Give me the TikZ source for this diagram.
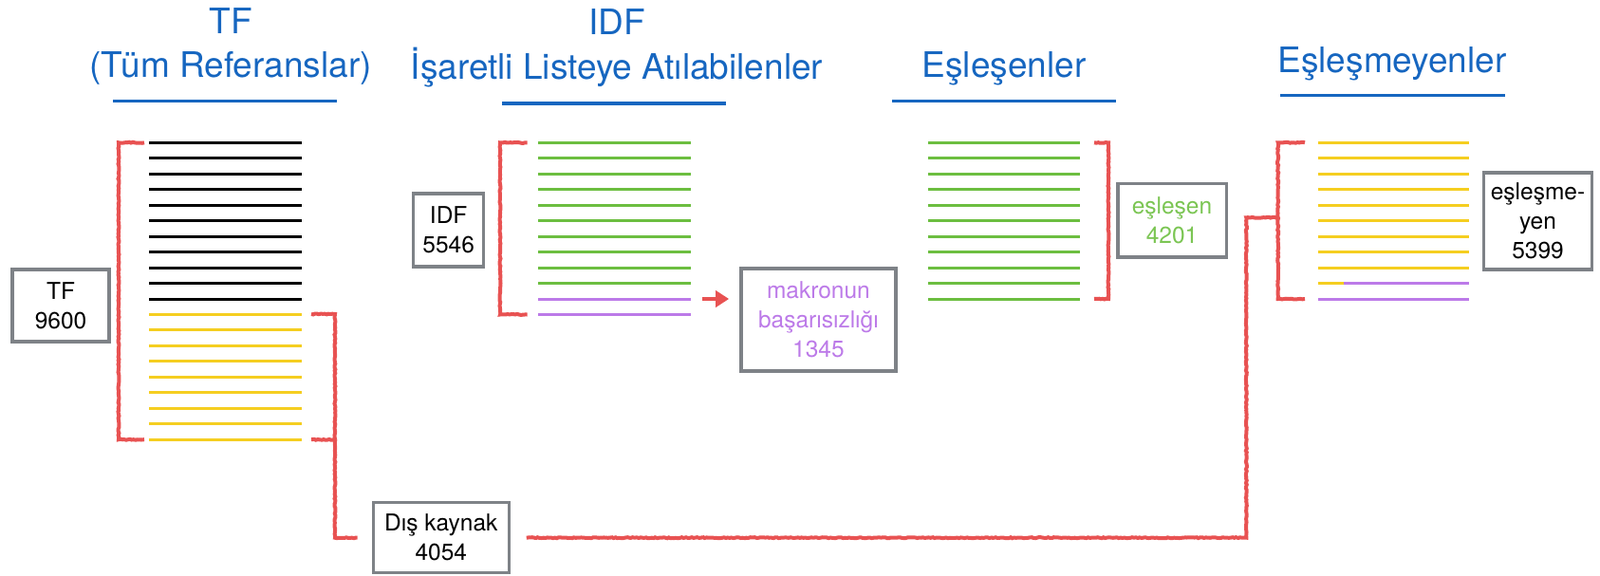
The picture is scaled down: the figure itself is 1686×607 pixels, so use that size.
\documentclass[tikz,border=0pt]{standalone}
\usepackage{fontspec}
\setmainfont{TeX Gyre Heros}
\usepackage{xcolor}
\definecolor{titleblue}{RGB}{22,102,192}
\definecolor{listgreen}{RGB}{108,190,64}
\definecolor{listyellow}{RGB}{245,206,32}
\definecolor{listpurple}{RGB}{188,122,232}
\definecolor{markred}{RGB}{232,82,82}
\definecolor{boxgray}{RGB}{126,130,135}
\usepackage{tikz}
\usetikzlibrary{positioning,calc,arrows.meta,decorations.pathmorphing}

\begin{document}
\begin{tikzpicture}[x=1pt, y=-1pt, >={Triangle[length=14pt, width=17pt]},
  title/.style = {text=titleblue, align=center, inner sep=0pt, anchor=base, font=\fontsize{37}{46.5}\selectfont},
  uline/.style = {draw=titleblue, line width=3.5pt},
  box/.style = {draw=boxgray, line width=3.5pt, align=center, inner sep=0pt, font=\fontsize{24.5}{31}\selectfont},
  entry/.style = {line width=3pt},
  bracket/.style = {draw=markred, line width=4pt, decorate, decoration={random steps, segment length=2pt, amplitude=0.5pt}}]

\useasboundingbox (0,0) rectangle (1686,607);

\node[title] (t1) at (243,81.7) {TF\\(Tüm Referanslar)};
\node[title] (t2) at (650,83.3) {IDF\\İşaretli Listeye Atılabilenler};
\node[title] (t3) at (1058,81.7) {Eşleşenler};
\node[title] (t4) at (1467,76.7) {Eşleşmeyenler};
\draw[uline] (119,106.7) -- (355,106.7);
\draw[uline] (529,109) -- (765,109);
\draw[uline] (940,106.7) -- (1176,106.7);
\draw[uline] (1349,100.7) -- (1586,100.7);

\foreach \k in {0,...,10} \draw[entry, black] (157,150.3+16.47*\k) -- (317.5,150.3+16.47*\k);
\foreach \k in {11,...,19} \draw[entry, listyellow] (157,150.3+16.47*\k) -- (317.5,150.3+16.47*\k);
\foreach \k in {0,...,9} \draw[entry, listgreen] (567,150.3+16.47*\k) -- (727.5,150.3+16.47*\k);
\foreach \k in {10,11} \draw[entry, listpurple] (567,150.3+16.47*\k) -- (727.5,150.3+16.47*\k);
\foreach \k in {0,...,10} \draw[entry, listgreen] (977.7,150.3+16.47*\k) -- (1138,150.3+16.47*\k);
\foreach \k in {0,...,8} \draw[entry, listyellow] (1388.7,150.3+16.47*\k) -- (1547.6,150.3+16.47*\k);
\draw[entry, listyellow] (1388.7,298.5) -- (1416,298.5);
\draw[entry, listpurple] (1416,298.5) -- (1547.6,298.5);
\draw[entry, listpurple] (1388.7,315) -- (1547.6,315);

\node[box, minimum width=102pt, minimum height=76pt] (tf) at (64,322.2) {TF\\9600};
\node[box, minimum width=74pt, minimum height=77pt] (idf) at (472.7,242.4) {IDF\\5546};
\node[box, minimum width=163pt, minimum height=108pt, text=listpurple] (makro) at (862.4,337.2) {makronun\\başarısızlığı\\1345};
\node[box, minimum width=114.5pt, minimum height=77.5pt, text=listgreen!90!white] (esl) at (1235,232.2) {eşleşen\\4201};
\node[box, minimum width=114pt, minimum height=102pt] (eslm) at (1620.5,233) {eşleşme-\\yen\\5399};
\node[box, minimum width=143pt, minimum height=74pt] (dis) at (464.8,566.7) {Dış kaynak\\4054};

\draw[bracket] (152,150.3) -- (125,150.3) -- (125,463.2) -- (152,463.2);
\draw[bracket] (328,331) -- (353,331) -- (353,463.2) -- (328,463.2);
\draw[bracket] (555.7,150.3) -- (527,150.3) -- (527,331.5) -- (555.7,331.5);
\draw[bracket] (1153,150.3) -- (1168,150.3) -- (1168,315) -- (1153,315);
\draw[bracket] (1375,150.3) -- (1346.7,150.3) -- (1346.7,315) -- (1375,315);

\coordinate (yb) at (353,463.2);
\coordinate (nb) at (1346.7,229.3);
\coordinate (arr) at (740,315);
\draw[bracket] (yb) |- ($(dis.west)+(-15,0)$);
\draw[bracket] ($(dis.east)+(16.7,0)$) -| ($(nb)+(-33.4,0)$) -- (nb);
\draw[draw=markred, line width=4pt, ->, shorten >=11pt] (arr) -- (makro.west |- arr);
\end{tikzpicture}
\end{document}
